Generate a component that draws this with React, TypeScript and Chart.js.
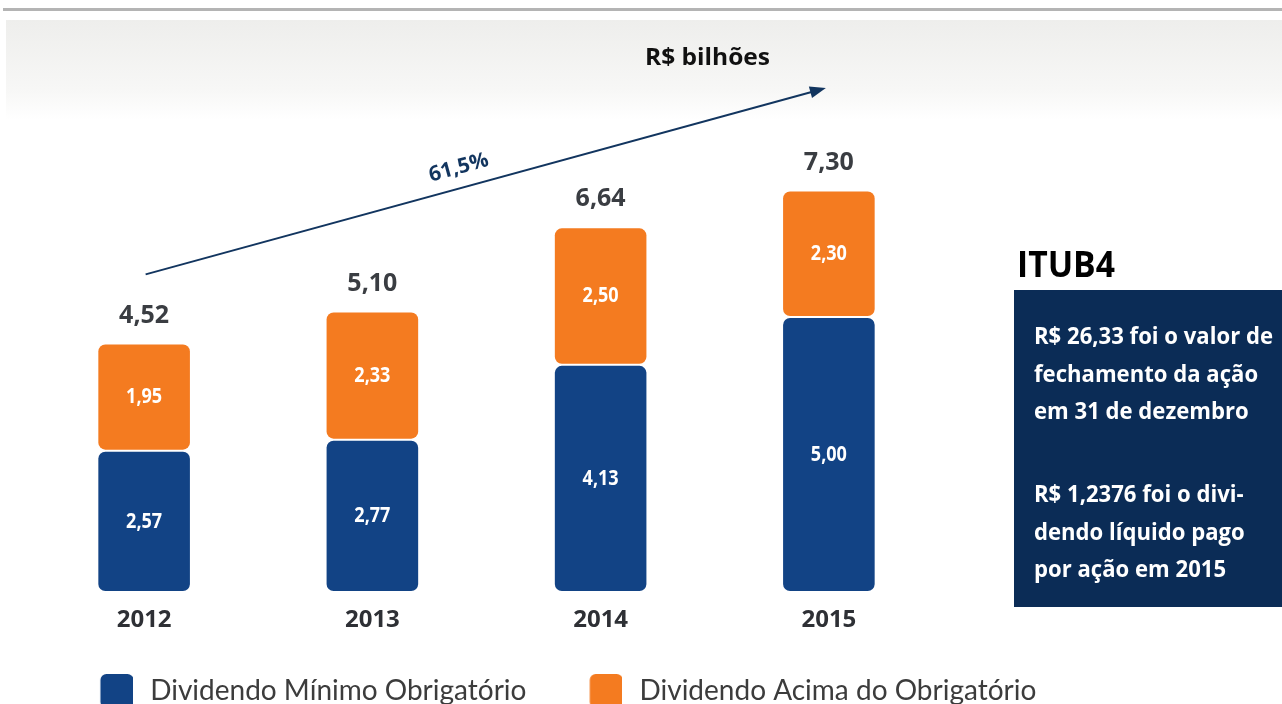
import React, { useEffect, useRef } from "react";
import { Chart, registerables } from "chart.js";
Chart.register(...registerables);

const years = ["2012", "2013", "2014", "2015"];
const minimoValues = [2.57, 2.77, 4.13, 5.0];
const acimaValues = [1.95, 2.33, 2.5, 2.3];
const totalValues = [4.52, 5.1, 6.64, 7.3];
const seriesNames = ["Dividendo Mínimo Obrigatório", "Dividendo Acima do Obrigatório"];
const unitTitle = "R$ bilhões";
const growthText = "61,5%";
const sideTitle = "ITUB4";
const sideParagraphs = [
  ["R$ 26,33 foi o valor de", "fechamento da ação", "em 31 de dezembro"],
  ["R$ 1,2376 foi o divi-", "dendo líquido pago", "por ação em 2015"],
];

const BLUE = "#124385";
const ORANGE = "#f47b20";
const NAVY = "#0b2c56";
const ARROW = "#12355f";
const BOLD = "'Open Sans', 'DejaVu Sans', sans-serif";
const LEGEND_FONT = "Lato, 'Open Sans', sans-serif";
const LEGEND_SIZE = 28;
const LEGEND_PAD = 43.5;
const SLOT = 55.5; // legend point-style slot width
const SW = 33; // swatch size
const SW_IMG = 49.5; // swatch image width (transparent on the left)
const CANVAS_H = 691 + LEGEND_SIZE / 2 + 10;

const fmt = (v: number) => v.toFixed(2).replace(".", ",");

let measureCtx: CanvasRenderingContext2D | null = null;
function measure(text: string, font: string) {
  if (!measureCtx) measureCtx = document.createElement("canvas").getContext("2d");
  (measureCtx as CanvasRenderingContext2D).font = font;
  return (measureCtx as CanvasRenderingContext2D).measureText(text).width;
}

function swatch(color: string) {
  const c = document.createElement("canvas");
  c.width = SW_IMG;
  c.height = 34;
  const ctx = c.getContext("2d") as CanvasRenderingContext2D;
  ctx.fillStyle = color;
  ctx.beginPath();
  (ctx as any).roundRect(SW_IMG - SW, 0, SW, 34, 6);
  ctx.fill();
  return c;
}

function condensedText(ctx: any, text: string, x: number, y: number, sx: number) {
  ctx.save();
  ctx.translate(x, y);
  ctx.scale(sx, 1);
  ctx.fillText(text, 0, 0);
  ctx.restore();
}

const annotate = {
  id: "annotate",
  afterDatasetsDraw(chart: any) {
    const { ctx } = chart;
    ctx.save();
    ctx.textAlign = "center";
    ctx.textBaseline = "middle";
    chart.data.datasets.forEach((ds: any, di: number) => {
      const meta = chart.getDatasetMeta(di);
      meta.data.forEach((el: any, i: number) => {
        ctx.fillStyle = "#ffffff";
        ctx.font = `bold 22px ${BOLD}`;
        condensedText(ctx, fmt(ds.data[i]), el.x, (el.y + el.base) / 2, 0.82);
      });
    });
    const topMeta = chart.getDatasetMeta(1);
    topMeta.data.forEach((el: any, i: number) => {
      ctx.fillStyle = "#3a3d42";
      ctx.font = `bold 25px ${BOLD}`;
      ctx.fillText(fmt(totalValues[i]), el.x, el.y - 28);
    });
    // growth arrow
    const first = topMeta.data[0];
    const last = topMeta.data[topMeta.data.length - 1];
    const x0 = first.x + 1.5;
    const y0 = first.y - 69;
    const x1 = last.x - 3;
    const y1 = last.y - 102.5;
    const ang = Math.atan2(y1 - y0, x1 - x0);
    ctx.strokeStyle = ARROW;
    ctx.fillStyle = ARROW;
    ctx.lineWidth = 2;
    ctx.beginPath();
    ctx.moveTo(x0, y0);
    ctx.lineTo(x1 - 12 * Math.cos(ang), y1 - 12 * Math.sin(ang));
    ctx.stroke();
    ctx.beginPath();
    ctx.moveTo(x1, y1);
    ctx.lineTo(x1 - 16 * Math.cos(ang) + 6 * Math.sin(ang), y1 - 16 * Math.sin(ang) - 6 * Math.cos(ang));
    ctx.lineTo(x1 - 16 * Math.cos(ang) - 6 * Math.sin(ang), y1 - 16 * Math.sin(ang) + 6 * Math.cos(ang));
    ctx.closePath();
    ctx.fill();
    // growth label
    const t = 0.468;
    const lx = x0 + (x1 - x0) * t + 20 * Math.sin(ang);
    const ly = y0 + (y1 - y0) * t - 20 * Math.cos(ang);
    ctx.translate(lx, ly);
    ctx.rotate(ang);
    ctx.font = `bold 21px ${BOLD}`;
    ctx.fillText(growthText, 0, 0);
    ctx.restore();
  },
};

function BarChart() {
  const ref = useRef<HTMLCanvasElement | null>(null);
  const legendFont = `${LEGEND_SIZE}px ${LEGEND_FONT}`;
  const t1 = measure(seriesNames[0], legendFont);
  const t2 = measure(seriesNames[1], legendFont);
  // first legend text should start at x = 150; legend is centred between left padding (30) and canvas right edge
  const x1 = 150 - SLOT - LEGEND_SIZE / 2;
  const lineWidth = 2 * (SLOT + LEGEND_SIZE / 2) + t1 + t2 + 2 * LEGEND_PAD;
  const canvasW = Math.round(2 * x1 - 30 - LEGEND_PAD + lineWidth);
  const axisH = CANVAS_H - (LEGEND_SIZE + LEGEND_PAD + 10) - 592;
  useEffect(() => {
    if (!ref.current) return;
    const swatches = [swatch(BLUE), swatch(ORANGE)];
    const radius = { topLeft: 8, topRight: 8, bottomLeft: 8, bottomRight: 8 };
    const chart = new Chart(ref.current, {
      type: "bar",
      data: {
        labels: years,
        datasets: [
          {
            label: seriesNames[0],
            data: minimoValues,
            backgroundColor: BLUE,
            borderColor: "#ffffff",
            borderWidth: 1,
            borderRadius: radius,
            borderSkipped: false,
          },
          {
            label: seriesNames[1],
            data: acimaValues,
            backgroundColor: ORANGE,
            borderColor: "#ffffff",
            borderWidth: 1,
            borderRadius: radius,
            borderSkipped: false,
          },
        ],
      },
      options: {
        responsive: false,
        animation: false,
        layout: { padding: { left: 30, right: 0, top: 152, bottom: 0 } },
        datasets: { bar: { categoryPercentage: 1, barPercentage: 0.41 } },
        scales: {
          x: {
            stacked: true,
            grid: { display: false, drawTicks: false },
            border: { display: false },
            ticks: { color: "#2e3035", font: { family: BOLD, size: 24, weight: "bold" }, padding: 13.6 },
            afterFit: (scale: any) => {
              scale.height = axisH;
            },
          },
          y: {
            stacked: true,
            position: "right",
            min: 0,
            max: 8,
            grid: { display: false, drawTicks: false },
            border: { display: false },
            ticks: { display: false },
            afterFit: (scale: any) => {
              scale.width = canvasW - 943;
            },
          },
        },
        plugins: {
          tooltip: { enabled: false },
          title: { display: false },
          legend: {
            position: "bottom",
            align: "center",
            labels: {
              usePointStyle: true,
              pointStyleWidth: SLOT,
              padding: LEGEND_PAD,
              color: "#3c3c3c",
              font: { family: LEGEND_FONT, size: LEGEND_SIZE },
              generateLabels: (c: any) =>
                (Chart.defaults.plugins.legend.labels as any)
                  .generateLabels(c)
                  .map((it: any, i: number) => ({ ...it, pointStyle: swatches[i], lineWidth: 0 })),
            },
          },
        },
      } as any,
      plugins: [annotate],
    });
    return () => chart.destroy();
  }, []);
  return (
    <canvas
      ref={ref}
      width={canvasW}
      height={CANVAS_H}
      style={{ position: "absolute", left: 0, top: 0, width: canvasW, height: CANVAS_H }}
    />
  );
}

function Squeezed({ text, font, target, style }: any) {
  const k = target / measure(text, font);
  return (
    <div style={{ ...style, transform: `scaleX(${k})`, transformOrigin: "left top", whiteSpace: "nowrap" }}>
      {text}
    </div>
  );
}

export default function App() {
  const boxFont = `bold 24px ${BOLD}`;
  const boxK = 239 / measure(sideParagraphs[0][0], boxFont);
  const unitW = measure(unitTitle, boxFont);
  return (
    <div
      style={{
        position: "fixed",
        left: 0,
        top: 0,
        width: 1282,
        height: 704,
        overflow: "hidden",
        background: "#ffffff",
      }}
    >
      <div style={{ position: "absolute", left: 3, top: 8, width: 1279, height: 3, background: "#b4b4b4" }} />
      <div
        style={{
          position: "absolute",
          left: 6,
          top: 20,
          width: 1276,
          height: 100,
          background: "linear-gradient(to bottom, #eeeeec 0%, #f7f7f6 70%, #ffffff 100%)",
        }}
      />
      <BarChart />
      <div
        style={{
          position: "absolute",
          left: 707 - 62.5,
          top: 41,
          fontFamily: BOLD,
          fontWeight: "bold",
          fontSize: 24,
          lineHeight: "30px",
          color: "#111",
          whiteSpace: "nowrap",
          transform: `scaleX(${125 / unitW})`,
          transformOrigin: "left top",
        }}
      >
        {unitTitle}
      </div>
      <Squeezed
        text={sideTitle}
        font={`bold 36px ${BOLD}`}
        target={98}
        style={{
          position: "absolute",
          left: 1017,
          top: 240,
          fontFamily: BOLD,
          fontWeight: "bold",
          fontSize: 36,
          lineHeight: "48px",
          color: "#000",
        }}
      />
      <div
        style={{
          position: "absolute",
          left: 1014,
          top: 290,
          width: 268,
          height: 317,
          background: NAVY,
          overflow: "hidden",
        }}
      >
        <div
          style={{
            position: "absolute",
            left: 20,
            top: 26,
            color: "#fff",
            fontFamily: BOLD,
            fontWeight: "bold",
            fontSize: 24,
            lineHeight: "37.5px",
            whiteSpace: "nowrap",
            transform: `scaleX(${boxK})`,
            transformOrigin: "left top",
          }}
        >
          {sideParagraphs.map((p, i) => (
            <div key={i} style={{ marginBottom: i === 0 ? 45.5 : 0 }}>
              {p.map((line, j) => (
                <div key={j}>{line}</div>
              ))}
            </div>
          ))}
        </div>
      </div>
    </div>
  );
}
